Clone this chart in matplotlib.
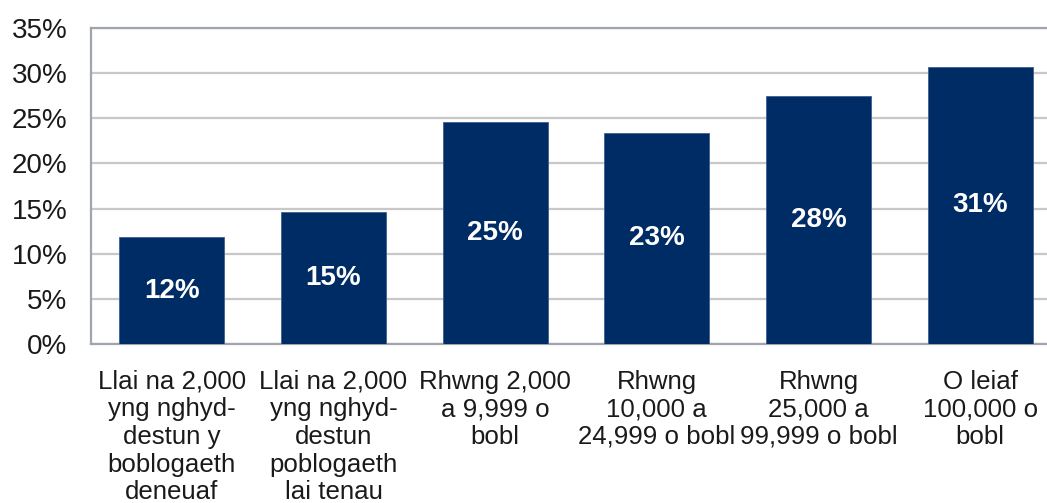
import numpy as np
import matplotlib.pyplot as plt

plt.rcParams.update({'font.family': ['Liberation Sans', 'DejaVu Sans']})

categories = ["Llai na 2,000\nyng nghyd-\ndestun y\nboblogaeth\ndeneuaf",
              "Llai na 2,000\nyng nghyd-\ndestun\npoblogaeth\nlai tenau",
              "Rhwng 2,000\na 9,999 o\nbobl",
              "Rhwng\n10,000 a\n24,999 o bobl",
              "Rhwng\n25,000 a\n99,999 o bobl",
              "O leiaf\n100,000 o\nbobl"]
values = [11.8, 14.6, 24.6, 23.4, 27.5, 30.7]
labels = ["12%", "15%", "25%", "23%", "28%", "31%"]
yticks = [0, 5, 10, 15, 20, 25, 30, 35]

bar_color = "#002C66"

fig = plt.figure(figsize=(10.47, 5.03), dpi=100)
ax = fig.add_axes([91/1047, 159/503, 970/1047, 316/503])

x = np.arange(len(categories))
ax.bar(x, values, width=0.65, color=bar_color, edgecolor="#3D5F8F", lw=0.6, zorder=3)
for xi, v, lab in zip(x, values, labels):
    ax.text(xi, v/2, lab, ha="center", va="center", color="white",
            fontsize=20, fontweight="bold", zorder=4)

ax.set_xlim(-0.5, len(categories) - 0.5)
ax.set_ylim(0, 35)
ax.set_yticks(yticks)
ax.set_yticklabels([f"{t}%" for t in yticks])
ax.set_xticks(x)
ax.set_xticklabels(categories, linespacing=1.19)
ax.tick_params(axis='y', length=0, pad=17, labelsize=20, colors="#1a1a1a")
ax.tick_params(axis='x', length=0, pad=18.5, labelsize=18.6, colors="#1a1a1a")
ax.yaxis.grid(True, color="#C8C8C8", lw=1.6, zorder=0)
ax.set_axisbelow(True)
for s in ['left', 'bottom', 'top']:
    ax.spines[s].set_color("#A0A4AC")
    ax.spines[s].set_linewidth(1.6)
ax.spines['right'].set_visible(False)

fig.savefig("out.png", dpi=100)
